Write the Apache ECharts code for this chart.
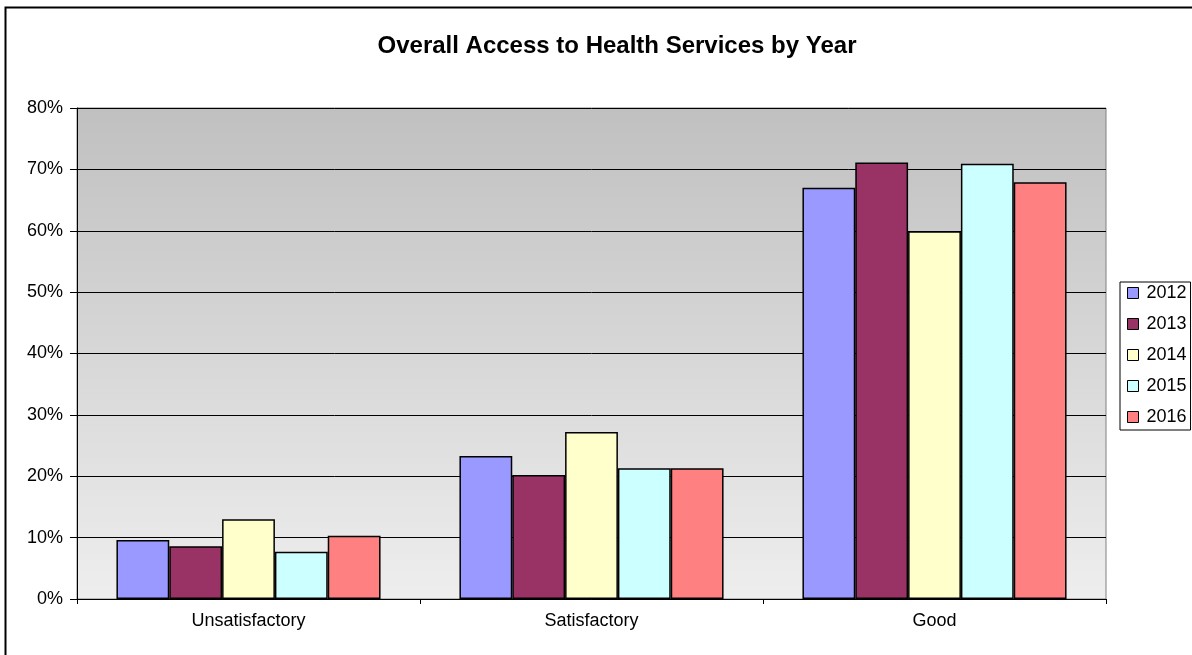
<!DOCTYPE html>
<html>
<head>
<meta charset="utf-8">
<script src="https://cdn.jsdelivr.net/npm/echarts@6/dist/echarts.min.js"></script>
<style>
html, body { margin: 0; padding: 0; background: #fff; }
#chart { width: 1192px; height: 655px; }
</style>
</head>
<body>
<div id="chart"></div>
<script>
var categories = ["Unsatisfactory", "Satisfactory", "Good"];
var years = ["2012", "2013", "2014", "2015", "2016"];
var colors = ["#9999ff", "#993366", "#ffffcc", "#ccffff", "#ff8080"];
// percent values per year, in category order
var v2012 = [9.6, 23.3, 67.0];
var v2013 = [8.6, 20.2, 71.1];
var v2014 = [13.0, 27.2, 59.9];
var v2015 = [7.7, 21.3, 70.9];
var v2016 = [10.3, 21.3, 67.9];
var yearValues = [v2012, v2013, v2014, v2015, v2016];

var chart = echarts.init(document.getElementById("chart"));
var font = "Liberation Sans, Arial, sans-serif";

var series = years.map(function (y, i) {
    return {
        name: y,
        type: "bar",
        data: yearValues[i],
        barGap: "0%",
        barCategoryGap: "23%",
        itemStyle: { color: colors[i], borderColor: "#000", borderWidth: 1.5 },
        emphasis: { disabled: true }
    };
});

chart.setOption({
    animation: false,
    title: {
        text: "Overall Access to Health Services by Year",
        left: 612,
        top: 29,
        textAlign: "center",
        textStyle: { fontFamily: font, fontSize: 24, fontWeight: "bold", color: "#000" }
    },
    graphic: [{
        type: "rect",
        shape: { x: 5.5, y: 7.5, width: 1300, height: 800 },
        style: { fill: null, stroke: "#000", lineWidth: 2 },
        silent: true
    }],
    legend: {
        orient: "vertical",
        left: 1120,
        top: 282,
        itemWidth: 11,
        itemHeight: 11,
        itemGap: 13,
        padding: [2, 4, 4, 7],
        borderColor: "#000",
        borderWidth: 1,
        icon: "rect",
        itemStyle: { borderColor: "#000", borderWidth: 1 },
        textStyle: { fontFamily: font, fontSize: 18, color: "#000", padding: [0, 0, 0, 3] },
        data: years
    },
    grid: {
        left: 77,
        right: 86,
        top: 108,
        bottom: 56,
        show: true,
        borderColor: "#808080",
        borderWidth: 1,
        backgroundColor: {
            type: "linear", x: 0, y: 0, x2: 0, y2: 1,
            colorStops: [{ offset: 0, color: "#c0c0c0" }, { offset: 1, color: "#eeeeee" }]
        }
    },
    xAxis: {
        type: "category",
        data: categories,
        axisLine: { lineStyle: { color: "#000", width: 1 } },
        axisTick: { show: true, length: 5, lineStyle: { color: "#000" } },
        axisLabel: { fontFamily: font, fontSize: 18, color: "#000", margin: 13 }
    },
    yAxis: {
        type: "value",
        min: 0,
        max: 80,
        interval: 10,
        axisLine: { show: true, lineStyle: { color: "#000", width: 1 } },
        axisTick: { show: true, length: 7, lineStyle: { color: "#000" } },
        axisLabel: { fontFamily: font, fontSize: 18, color: "#000", margin: 14, formatter: "{value}%" },
        splitLine: { show: true, lineStyle: { color: "#000", width: 1 } }
    },
    series: series
});
</script>
</body>
</html>
